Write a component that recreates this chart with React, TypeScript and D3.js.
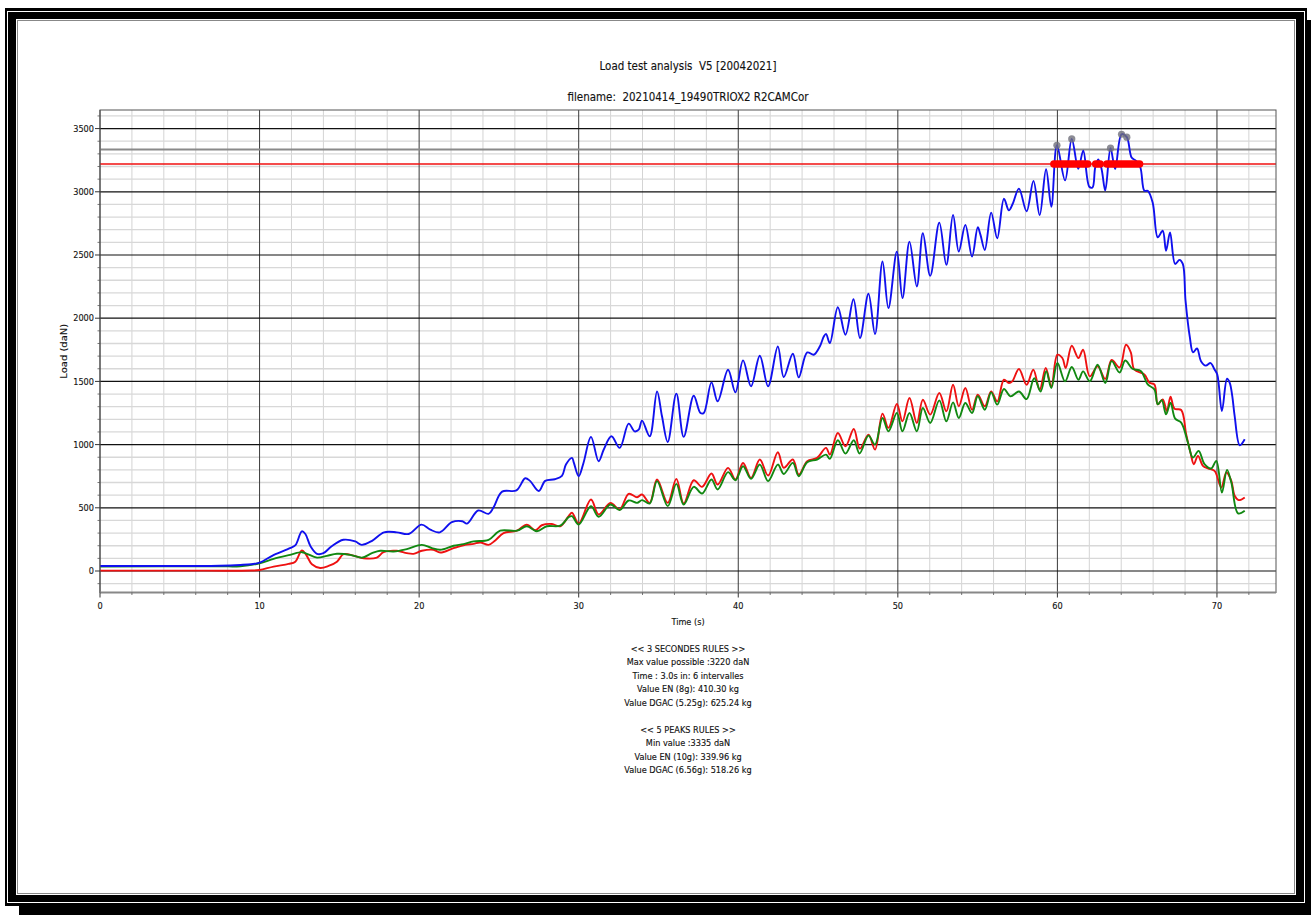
import React from "react";
import * as d3 from "d3";

const blueLoad: [number, number][] = [
  [0, 40], [3, 40], [6, 40], [7.5, 42], [8.8, 48], [9.5, 54], [10, 66], [10.9, 128], [11.9, 181], [12.25, 205], [12.65, 314], [12.86, 295], [13.2, 194], [13.6, 136], [14.0, 141], [14.5, 194], [15.25, 247], [16.0, 234], [16.4, 207], [17.05, 239], [17.8, 306], [18.6, 306], [19.35, 293], [20.15, 367], [20.7, 327], [21.3, 306], [22.05, 386], [22.7, 394], [23.0, 375], [23.7, 479], [24.35, 452], [24.65, 500], [25.2, 628], [26.1, 638], [26.65, 734], [26.95, 713], [27.5, 633], [27.9, 713], [28.5, 726], [28.95, 753], [29.2, 842], [29.58, 895], [29.7, 855], [30.0, 750], [30.3, 855], [30.77, 1061], [31.25, 868], [31.57, 961], [32.05, 1066], [32.57, 974], [33.13, 1166], [33.5, 1105], [33.76, 1118], [33.97, 1190], [34.45, 1066], [34.91, 1421], [35.22, 1224], [35.58, 1021], [36.12, 1403], [36.58, 1061], [37.21, 1387], [37.63, 1250], [37.84, 1250], [38.32, 1492], [38.71, 1342], [39.36, 1592], [39.82, 1413], [40.3, 1666], [40.8, 1461], [41.35, 1703], [41.87, 1461], [42.48, 1776], [42.85, 1534], [43.42, 1719], [43.79, 1532], [44.32, 1729], [44.73, 1711], [45.11, 1776], [45.36, 1855], [45.5, 1876], [45.74, 1803], [46.24, 2087], [46.72, 1869], [47.22, 2150], [47.63, 1843], [48.16, 2193], [48.57, 1874], [49.04, 2448], [49.41, 2080], [49.94, 2527], [50.29, 2159], [50.73, 2606], [51.19, 2251], [51.57, 2672], [52.03, 2335], [52.6, 2756], [53.04, 2422], [53.46, 2817], [53.82, 2527], [54.23, 2738], [54.65, 2488], [55.01, 2719], [55.18, 2659], [55.45, 2540], [55.85, 2835], [56.23, 2632], [56.65, 2945], [56.96, 2853], [57.2, 2905], [57.59, 3025], [58.07, 2845], [58.5, 3086], [58.89, 2815], [59.29, 3178], [59.62, 2882], [59.97, 3368], [60.48, 3090], [60.9, 3418], [61.31, 3182], [61.62, 3326], [62.0, 3040], [62.2, 3034], [62.37, 3192], [62.56, 3255], [62.77, 3179], [63.0, 3010], [63.33, 3345], [63.62, 3179], [64.02, 3455], [64.35, 3432], [64.65, 3271], [64.93, 3245], [65.2, 3192], [65.45, 3008], [65.66, 3008], [65.97, 2916], [66.29, 2640], [66.6, 2692], [66.81, 2534], [67.06, 2679], [67.38, 2429], [67.65, 2461], [67.86, 2429], [68.03, 2140], [68.3, 1850], [68.5, 1730], [68.75, 1760], [69.0, 1660], [69.3, 1625], [69.6, 1645], [69.85, 1594], [70.02, 1555], [70.31, 1266], [70.63, 1521], [70.8, 1489], [70.96, 1384], [71.11, 1226], [71.43, 995], [71.74, 1042],
];

const redLoad: [number, number][] = [
  [0, 3], [5, 3], [9.5, 4], [10, 8], [10.88, 35], [11.82, 56], [12.24, 74], [12.65, 162], [12.92, 128], [13.28, 53], [13.8, 24], [14.32, 40], [14.85, 74], [15.26, 133], [15.89, 122], [16.52, 101], [17.35, 106], [17.77, 149], [18.6, 160], [19.23, 141], [19.65, 136], [20.17, 160], [20.9, 168], [21.32, 146], [22.16, 181], [22.89, 207], [23.41, 215], [23.83, 226], [24.35, 207], [24.77, 242], [25.29, 300], [26.13, 319], [26.75, 367], [27.28, 322], [27.69, 362], [28.32, 372], [28.84, 354], [29.37, 434], [29.58, 461], [30.0, 376], [30.77, 566], [31.25, 447], [31.99, 539], [32.57, 487], [33.13, 611], [33.66, 584], [33.97, 605], [34.45, 539], [34.91, 724], [35.58, 539], [36.12, 729], [36.58, 534], [37.21, 718], [37.73, 666], [38.32, 771], [38.71, 684], [39.36, 816], [39.82, 724], [40.3, 855], [40.8, 737], [41.35, 882], [41.87, 755], [42.48, 940], [42.85, 816], [43.42, 882], [43.79, 763], [44.32, 868], [44.94, 895], [45.5, 974], [45.74, 921], [46.24, 1092], [46.72, 987], [47.24, 1124], [47.62, 968], [48.16, 1079], [48.57, 960], [49.04, 1245], [49.41, 1132], [49.94, 1321], [50.29, 1184], [50.73, 1369], [51.19, 1171], [51.57, 1355], [52.03, 1237], [52.6, 1408], [53.04, 1263], [53.46, 1474], [53.82, 1303], [54.23, 1448], [54.65, 1276], [55.01, 1395], [55.45, 1303], [55.85, 1421], [56.23, 1342], [56.65, 1513], [56.96, 1487], [57.17, 1500], [57.59, 1598], [58.07, 1474], [58.49, 1592], [58.89, 1434], [59.27, 1606], [59.62, 1461], [60.0, 1711], [60.31, 1685], [60.52, 1606], [60.9, 1782], [61.32, 1685], [61.61, 1750], [62.03, 1540], [62.52, 1619], [63.0, 1520], [63.4, 1670], [63.9, 1610], [64.3, 1790], [64.6, 1730], [64.82, 1594], [65.45, 1555], [65.77, 1489], [66.08, 1476], [66.29, 1318], [66.6, 1358], [66.86, 1266], [67.09, 1379], [67.34, 1284], [67.76, 1274], [68.07, 1082], [68.34, 937], [68.55, 845], [68.81, 911], [69.12, 832], [69.43, 811], [69.85, 792], [70.27, 661], [70.59, 779], [70.9, 713], [71.11, 595], [71.36, 561], [71.74, 582],
];

const greenLoad: [number, number][] = [
  [0, 36], [7.5, 37], [8.8, 38], [10, 61], [10.88, 96], [11.92, 128], [12.65, 149], [12.97, 136], [13.6, 106], [14.22, 120], [14.85, 136], [15.68, 128], [16.41, 106], [17.04, 141], [17.56, 160], [18.4, 154], [19.23, 173], [20.17, 207], [20.8, 181], [21.32, 168], [22.16, 200], [22.78, 213], [23.41, 234], [24.35, 247], [25.08, 319], [26.13, 319], [26.75, 354], [27.38, 314], [28.0, 354], [28.84, 359], [29.37, 426], [29.58, 434], [30.0, 368], [30.77, 513], [31.25, 429], [31.99, 526], [32.57, 482], [33.13, 558], [33.66, 539], [33.97, 561], [34.45, 534], [34.91, 711], [35.58, 513], [36.12, 689], [36.58, 526], [37.21, 666], [37.73, 613], [38.32, 724], [38.71, 645], [39.36, 782], [39.82, 718], [40.3, 829], [40.8, 729], [41.35, 842], [41.87, 711], [42.48, 842], [42.85, 768], [43.42, 855], [43.79, 750], [44.32, 861], [44.94, 882], [45.5, 921], [45.74, 887], [46.24, 1034], [46.72, 929], [47.24, 1034], [47.6, 930], [48.16, 1071], [48.57, 1000], [49.04, 1211], [49.41, 1105], [49.94, 1250], [50.29, 1105], [50.73, 1250], [51.19, 1105], [51.57, 1290], [52.03, 1171], [52.6, 1350], [53.04, 1184], [53.46, 1334], [53.82, 1211], [54.23, 1329], [54.65, 1250], [55.01, 1382], [55.45, 1276], [55.85, 1413], [56.23, 1316], [56.65, 1440], [57.06, 1382], [57.59, 1420], [58.07, 1360], [58.55, 1525], [58.95, 1420], [59.3, 1580], [59.62, 1448], [60.0, 1645], [60.48, 1500], [60.9, 1614], [61.32, 1513], [61.61, 1579], [62.03, 1500], [62.52, 1632], [63.0, 1487], [63.4, 1660], [63.9, 1570], [64.25, 1665], [64.7, 1600], [65.24, 1581], [65.66, 1476], [66.08, 1437], [66.29, 1318], [66.54, 1352], [66.81, 1239], [67.09, 1331], [67.38, 1205], [67.76, 1174], [68.18, 1016], [68.49, 897], [68.85, 950], [69.22, 845], [69.64, 811], [69.96, 871], [70.31, 621], [70.63, 800], [70.9, 700], [71.32, 456], [71.74, 477],
];

const maxValuePossible = 3220;
const minPeakValue = 3335;
const exceedIntervals: [number, number][] = [[59.78, 61.9], [62.4, 62.68], [63.1, 65.15]];
const peakPoints: [number, number][] = [[59.97, 3368], [60.9, 3418], [63.33, 3345], [64.02, 3455], [64.35, 3432]];

const xTickValues = [0, 10, 20, 30, 40, 50, 60, 70];
const yTickValues = [0, 500, 1000, 1500, 2000, 2500, 3000, 3500];

const titleLine1 = "Load test analysis  V5 [20042021]";
const titleLine2 = "filename:  20210414_19490TRIOX2 R2CAMCor";
const xLabel = "Time (s)";
const yLabel = "Load (daN)";
const infoLines = [
  "<< 3 SECONDES RULES >>",
  "Max value possible :3220 daN",
  "Time : 3.0s in: 6 intervalles",
  "Value EN (8g): 410.30 kg",
  "Value DGAC (5.25g): 625.24 kg",
  "",
  "<< 5 PEAKS RULES >>",
  "Min value :3335 daN",
  "Value EN (10g): 339.96 kg",
  "Value DGAC (6.56g): 518.26 kg",
];

const W = 1311;
const H = 915;
const L = 100, R = 1276, T = 110, B = 592.5;
const SX = 0.86;
const FONT = "DejaVu Sans";

function SText(props: { x: number; y: number; text: string; size: number; anchor?: string; rotate?: number; sx?: number }) {
  const { x, y, text, size, anchor = "middle", rotate, sx = SX } = props;
  return (
    <text
      transform={`translate(${x},${y}) scale(${sx},1)${rotate ? ` rotate(${rotate})` : ""}`}
      textAnchor={anchor as any}
      dominantBaseline="central"
      fontFamily={FONT}
      fontSize={size}
      fill="#111"
      stroke="#111"
      strokeWidth={0.15}
      style={{ whiteSpace: "pre" }}
    >
      {text}
    </text>
  );
}

export default function App() {
  const x = d3.scaleLinear().domain([0, 73.7]).range([L, R]);
  const y = d3.scaleLinear().domain([-170, 3647]).range([B, T]);
  const line = d3
    .line<[number, number]>()
    .x((d) => x(d[0]))
    .y((d) => y(d[1]))
    .curve(d3.curveCatmullRom.alpha(0.5));

  const xMinor = d3.range(0, 74, 2).filter((v) => v % 10 !== 0);
  const yMinor = d3.range(-100, 3647, 100).filter((v) => v % 500 !== 0);

  return (
    <svg width={W} height={H} style={{ position: "absolute", left: 0, top: 0, display: "block", background: "#fff" }}>
      {/* frame */}
      <rect x={19} y={906} width={W - 19} height={9} fill="#000" />
      <rect x={1307} y={20} width={4} height={H - 20} fill="#000" />
      <rect x={10.5} y={13.5} width={1291} height={887} fill="none" stroke="#000" strokeWidth={11} />
      <rect x={7.5} y={11.5} width={1297} height={891} fill="none" stroke="#fff" strokeWidth={1} />
      <rect x={17.5} y={20.5} width={1277} height={873} fill="none" stroke="#888" strokeWidth={1} />
      <rect x={18.5} y={21.5} width={1275} height={871} fill="#fff" stroke="none" />

      {/* grid minor */}
      {xMinor.map((v) => (
        <line key={"xm" + v} x1={x(v)} x2={x(v)} y1={T} y2={B} stroke="#d4d4d4" strokeWidth={1} />
      ))}
      {yMinor.map((v) => (
        <line key={"ym" + v} x1={L} x2={R} y1={y(v)} y2={y(v)} stroke="#d8d8d8" strokeWidth={1.3} />
      ))}
      {xTickValues.map((v) => (
        <line key={"xM" + v} x1={x(v)} x2={x(v)} y1={T} y2={B} stroke="#3a3a3a" strokeWidth={1} />
      ))}
      {yTickValues.map((v) => (
        <line key={"yM" + v} x1={L} x2={R} y1={y(v)} y2={y(v)} stroke="#111" strokeWidth={1.2} />
      ))}

      {/* threshold lines */}
      <line x1={L} x2={R} y1={y(minPeakValue)} y2={y(minPeakValue)} stroke="#8a8a8a" strokeWidth={2} />
      <line x1={L} x2={R} y1={y(maxValuePossible)} y2={y(maxValuePossible)} stroke="#f01010" strokeWidth={1.7} />

      {/* series */}
      <path d={line(redLoad) || ""} fill="none" stroke="#ee1111" strokeWidth={1.9} />
      <path d={line(greenLoad) || ""} fill="none" stroke="#118811" strokeWidth={1.9} />
      <path d={line(blueLoad) || ""} fill="none" stroke="#1010ee" strokeWidth={1.9} />

      {/* exceed band */}
      {exceedIntervals.map((iv, i) => (
        <line key={"ex" + i} x1={x(iv[0])} x2={x(iv[1])} y1={y(maxValuePossible)} y2={y(maxValuePossible)} stroke="#ff0000" strokeWidth={7.5} strokeLinecap="round" />
      ))}
      {peakPoints.map((p, i) => (
        <circle key={"pk" + i} cx={x(p[0])} cy={y(p[1])} r={3.6} fill="#6f6f7a" fillOpacity={0.8} />
      ))}

      {/* spines */}
      <rect x={L} y={T} width={R - L} height={B - T} fill="none" stroke="#555" strokeWidth={1} />
      <line x1={L} x2={R} y1={B} y2={B} stroke="#888" strokeWidth={2} />

      {/* ticks */}
      {yTickValues.map((v) => (
        <line key={"yt" + v} x1={L - 5} x2={L} y1={y(v)} y2={y(v)} stroke="#333" strokeWidth={1} />
      ))}
      {yMinor.map((v) => (
        <line key={"ytm" + v} x1={L - 2.5} x2={L} y1={y(v)} y2={y(v)} stroke="#555" strokeWidth={0.8} />
      ))}
      {xTickValues.map((v) => (
        <line key={"xt" + v} x1={x(v)} x2={x(v)} y1={B} y2={B + 5} stroke="#333" strokeWidth={1} />
      ))}
      {xMinor.map((v) => (
        <line key={"xtm" + v} x1={x(v)} x2={x(v)} y1={B} y2={B + 2.5} stroke="#555" strokeWidth={0.8} />
      ))}

      {/* tick labels */}
      {yTickValues.map((v) => (
        <SText key={"yl" + v} x={L - 6} y={y(v)} text={String(v)} size={9.5} anchor="end" />
      ))}
      {xTickValues.map((v) => (
        <SText key={"xl" + v} x={x(v)} y={606} text={String(v)} size={9.5} />
      ))}

      <SText x={688} y={622} text={xLabel} size={9.5} />
      <SText x={64} y={(T + B) / 2} text={yLabel} size={10} rotate={-90} sx={0.8} />

      <SText x={688} y={66} text={titleLine1} size={12} />
      <SText x={688} y={97} text={titleLine2} size={12} />

      {infoLines.map((t, i) => (
        <SText key={"il" + i} x={688} y={648.3 + i * 13.5} text={t} size={9.5} />
      ))}
    </svg>
  );
}
